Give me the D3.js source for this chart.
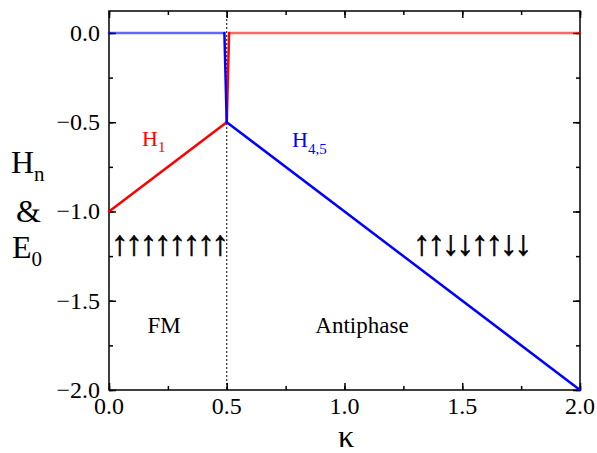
<!DOCTYPE html>
<html>
<head>
<meta charset="utf-8">
<script src="https://cdn.jsdelivr.net/npm/d3@7"></script>
<style>
  body { margin: 0; background: #fff; }
  svg text { font-family: "Liberation Serif", "Times New Roman", serif; }
</style>
</head>
<body>
<div class="chart"></div>
<script>
const w = 597;
const h = 453;
const margin = {top: 11, right: 17, bottom: 63, left: 109};
const serif = "Liberation Serif";

// data
const kappaH1 = [0, 0.5, 0.51, 2];
const valH1 = [-1, -0.5, 0, 0];
const kappaH45 = [0, 0.49, 0.5, 2];
const valH45 = [0, 0, -0.5, -2];
const xTicks = [0, 0.5, 1, 1.5, 2];
const yTicks = [0, -0.5, -1, -1.5, -2];
const boundary = 0.5;

const svg = d3.select(".chart").append("svg").attr("width", w).attr("height", h);

const x = d3.scaleLinear().domain([0, 2]).range([margin.left, w - margin.right]);
const y = d3.scaleLinear().domain([-2, 0.123]).range([h - margin.bottom, margin.top]);

const fmt = d3.format(".1f");
const minorX = d3.range(0, 2.01, 0.25);
const minorY = d3.range(-2, 0.01, 0.25);

// frame
svg.append("rect")
  .attr("x", x(0)).attr("y", y(0.123))
  .attr("width", x(2) - x(0)).attr("height", y(-2) - y(0.123))
  .attr("fill", "none").attr("stroke", "#000").attr("stroke-width", 1.5);

function ticks(g, axis, vals, size) {
  g.call(axis.tickValues(vals).tickSize(size).tickFormat(""))
    .call(s => s.select(".domain").remove())
    .call(s => s.selectAll("line").attr("stroke-width", 1.5));
}

svg.append("g").attr("transform", `translate(0,${y(-2)})`).call(g => ticks(g, d3.axisTop(x), minorX, 4));
svg.append("g").attr("transform", `translate(0,${y(-2)})`).call(g => ticks(g, d3.axisTop(x), xTicks, 7));
svg.append("g").attr("transform", `translate(0,${y(0.123)})`).call(g => ticks(g, d3.axisBottom(x), minorX, 4));
svg.append("g").attr("transform", `translate(0,${y(0.123)})`).call(g => ticks(g, d3.axisBottom(x), xTicks, 7));
svg.append("g").attr("transform", `translate(${x(0)},0)`).call(g => ticks(g, d3.axisRight(y), minorY, 4));
svg.append("g").attr("transform", `translate(${x(0)},0)`).call(g => ticks(g, d3.axisRight(y), yTicks, 7));
svg.append("g").attr("transform", `translate(${x(2)},0)`).call(g => ticks(g, d3.axisLeft(y), minorY, 4));
svg.append("g").attr("transform", `translate(${x(2)},0)`).call(g => ticks(g, d3.axisLeft(y), yTicks, 7));

// tick labels
svg.append("g").selectAll("text").data(xTicks).join("text")
  .attr("x", d => x(d)).attr("y", y(-2) + 24)
  .attr("text-anchor", "middle").attr("font-size", 24).attr("font-family", serif)
  .text(d => fmt(d));
svg.append("g").selectAll("text").data(yTicks).join("text")
  .attr("x", x(0) - 9).attr("y", d => y(d) + 8)
  .attr("text-anchor", "end").attr("font-size", 24).attr("font-family", serif)
  .text(d => fmt(d));

// phase boundary
svg.append("line")
  .attr("x1", x(boundary)).attr("x2", x(boundary))
  .attr("y1", y(0.123)).attr("y2", y(-2))
  .attr("stroke", "#000").attr("stroke-width", 1).attr("stroke-dasharray", "2,2");

// lines, segments lying on zero drawn lighter
function drawSeries(ks, vs, color) {
  const segs = d3.pairs(d3.zip(ks, vs));
  svg.append("g").selectAll("line").data(segs).join("line")
    .attr("x1", d => x(d[0][0])).attr("y1", d => y(d[0][1]))
    .attr("x2", d => x(d[1][0])).attr("y2", d => y(d[1][1]))
    .attr("stroke", color).attr("stroke-width", 2.5)
    .attr("stroke-linecap", "round")
    .attr("stroke-opacity", d => (d[0][1] === 0 && d[1][1] === 0) ? 0.6 : 1);
}
drawSeries(kappaH1, valH1, "#ff0000");
drawSeries(kappaH45, valH45, "#0000ff");

// series labels
const h1 = svg.append("text").attr("x", 142).attr("y", 146).attr("font-size", 22).attr("fill", "#ff0000");
h1.append("tspan").text("H");
h1.append("tspan").attr("font-size", 15).attr("dy", 6).text("1");
const h45 = svg.append("text").attr("x", 292).attr("y", 147).attr("font-size", 22).attr("fill", "#0000ff");
h45.append("tspan").text("H");
h45.append("tspan").attr("font-size", 15).attr("dy", 7).text("4,5");

// spin arrows
svg.append("text").attr("x", 111).attr("y", 255).attr("font-size", 35)
  .attr("font-family", serif).attr("fill", "#000").attr("stroke", "#000").attr("stroke-width", 0.6)
  .attr("textLength", 118).attr("lengthAdjust", "spacing").text("↑↑↑↑↑↑↑↑");
svg.append("text").attr("x", 413).attr("y", 255).attr("font-size", 35)
  .attr("font-family", serif).attr("fill", "#000").attr("stroke", "#000").attr("stroke-width", 0.6)
  .attr("textLength", 119).attr("lengthAdjust", "spacing").text("↑↑↓↓↑↑↓↓");

// phase names
svg.append("text").attr("x", 164).attr("y", 333).attr("text-anchor", "middle").attr("font-size", 23).text("FM");
svg.append("text").attr("x", 362).attr("y", 333).attr("text-anchor", "middle").attr("font-size", 23).text("Antiphase");

// axis titles
svg.append("text").attr("x", 346).attr("y", 447).attr("text-anchor", "middle").attr("font-size", 32).text("κ");
const hn = svg.append("text").attr("x", 11).attr("y", 173).attr("font-size", 32);
hn.append("tspan").text("H");
hn.append("tspan").attr("font-size", 21).attr("dy", 8).text("n");
svg.append("text").attr("x", 16).attr("y", 222).attr("font-size", 32).text("&");
const e0 = svg.append("text").attr("x", 12).attr("y", 258).attr("font-size", 32);
e0.append("tspan").text("E");
e0.append("tspan").attr("font-size", 21).attr("dy", 8).text("0");
</script>
</body>
</html>
